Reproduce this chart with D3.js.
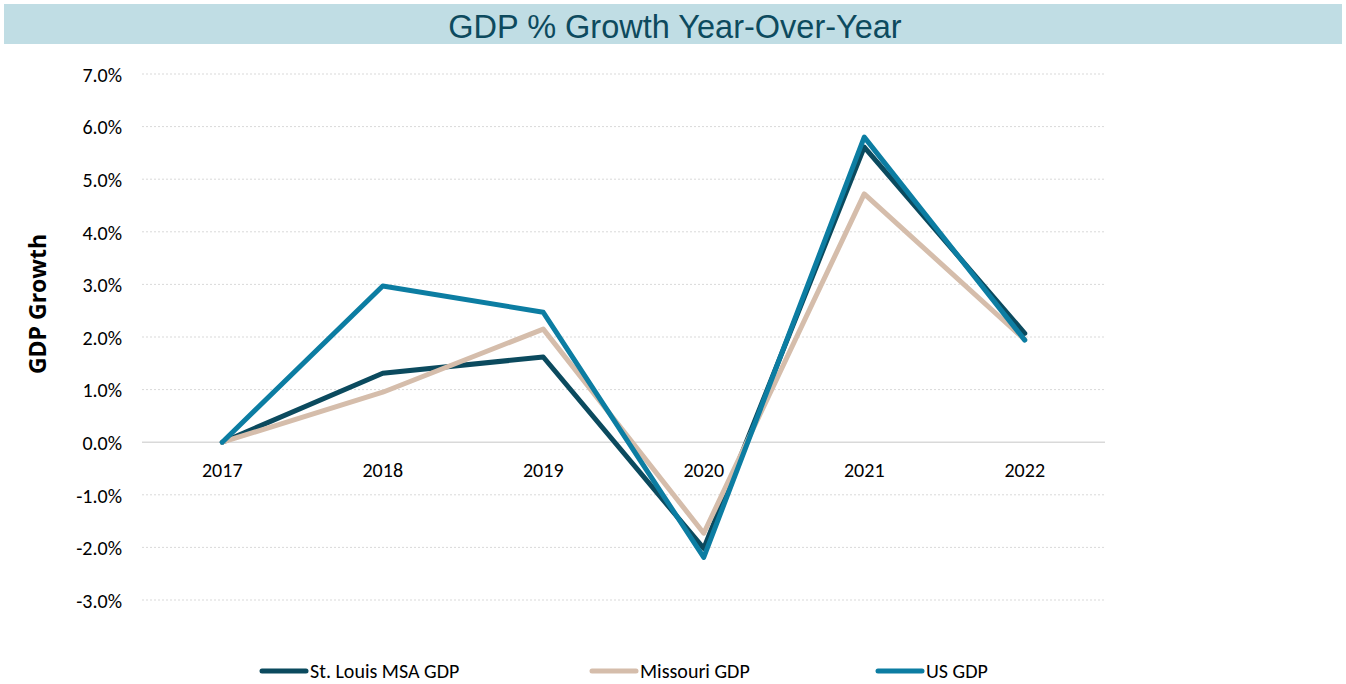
<!DOCTYPE html>
<html><head><meta charset="utf-8">
<script src="https://cdn.jsdelivr.net/npm/d3@7"></script>
<style>body{margin:0;background:#fff}svg{display:block}</style>
</head><body>
<svg id="c" width="1346" height="684"></svg>
<script>
const years = ["2017","2018","2019","2020","2021","2022"];
const stlouis = [0.0, 1.31, 1.62, -2.02, 5.61, 2.07];
const missouri = [0.0, 0.95, 2.15, -1.73, 4.72, 1.95];
const us = [0.0, 2.97, 2.47, -2.19, 5.80, 1.94];
const yTicks = [-3,-2,-1,0,1,2,3,4,5,6,7];
const seriesNames = ["St. Louis MSA GDP","Missouri GDP","US GDP"];
const colors = ["#0b4a5e","#d5bdab","#0c7da2"];

const svg = d3.select("#c");
const font = "Carlito, Lato, 'Open Sans', sans-serif";

svg.append("rect").attr("x",4).attr("y",4).attr("width",1338).attr("height",40).attr("fill","#c0dde4");
svg.append("text").attr("x",675).attr("y",38).attr("text-anchor","middle")
  .attr("font-family","'Liberation Sans', Arial, sans-serif").attr("font-size",32.5).attr("fill","#0d4a5e")
  .text("GDP % Growth Year-Over-Year");

const x = d3.scaleBand().domain(years).range([142,1105]);
const y = d3.scaleLinear().domain([-3,7]).range([600,74]);

const g = svg.append("g");
g.selectAll("line.grid").data(yTicks.filter(d=>d!==0)).join("line")
  .attr("x1",142).attr("x2",1105).attr("y1",d=>y(d)).attr("y2",d=>y(d))
  .attr("stroke","#d9d9d9").attr("stroke-width",1).attr("stroke-dasharray","2,2");
g.append("line").attr("x1",142).attr("x2",1105).attr("y1",y(0)).attr("y2",y(0))
  .attr("stroke","#d9d9d9").attr("stroke-width",1.5);

const yAxis = d3.axisLeft(y).tickValues(yTicks).tickSize(0).tickPadding(0).tickFormat(d=>d.toFixed(1)+"%");
const ya = svg.append("g").attr("transform","translate(122,0)").call(yAxis);
ya.select(".domain").remove();
ya.selectAll("text").attr("font-family",font).attr("font-size",20).attr("fill","#000").attr("dy","0.36em");

const xAxis = d3.axisBottom(x).tickSize(0).tickPadding(0);
const xa = svg.append("g").attr("transform","translate(0,"+(y(0)+21)+")").call(xAxis);
xa.select(".domain").remove();
xa.selectAll("text").attr("font-family",font).attr("font-size",20).attr("fill","#000").attr("dy","0.7em");

svg.append("text").attr("transform","translate(46,304) rotate(-90)").attr("text-anchor","middle")
  .attr("font-family","'Open Sans', 'DejaVu Sans', sans-serif").attr("font-weight","bold").attr("font-size",23).attr("fill","#000")
  .text("GDP Growth");

const allSeries = [stlouis, missouri, us];
const line = d3.line().x((d,i)=>x(years[i])+x.bandwidth()/2).y(d=>y(d));
svg.selectAll("path.s").data(allSeries).join("path")
  .attr("d",line).attr("fill","none").attr("stroke",(d,i)=>colors[i])
  .attr("stroke-width",5).attr("stroke-linejoin","round").attr("stroke-linecap","round");

const legX = [260,590,876];
const lg = svg.selectAll("g.leg").data(seriesNames).join("g").attr("transform",(d,i)=>"translate("+legX[i]+",671)");
lg.append("line").attr("x1",2).attr("x2",46).attr("y1",0).attr("y2",0).attr("stroke",(d,i)=>colors[i]).attr("stroke-width",5).attr("stroke-linecap","round");
lg.append("text").attr("x",50).attr("y",0).attr("dy","0.36em").attr("font-family",font).attr("font-size",20).attr("fill","#000").text(d=>d);
</script>
</body></html>
